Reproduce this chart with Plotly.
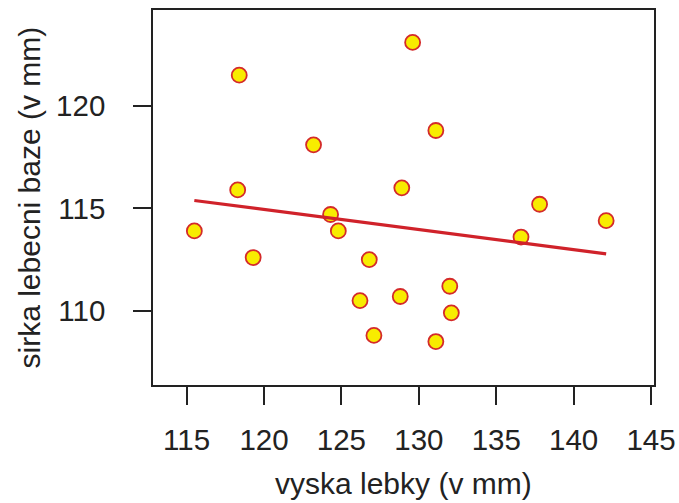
import numpy as np
import plotly.graph_objects as go

# data: skull height (x) vs. cranial base width (y), mm
vyska = [129.6, 118.4, 131.1, 123.2, 118.3, 128.9, 137.8, 115.5, 124.3, 124.8,
         136.6, 142.1, 119.3, 126.8, 132.0, 126.2, 128.8, 132.1, 127.1, 131.1]
sirka = [123.1, 121.5, 118.8, 118.1, 115.9, 116.0, 115.2, 113.9, 114.7, 113.9,
         113.6, 114.4, 112.6, 112.5, 111.2, 110.5, 110.7, 109.9, 108.8, 108.5]
x_ticks = [115, 120, 125, 130, 135, 140, 145]
y_ticks = [110, 115, 120]
x_title = "vyska lebky (v mm)"
y_title = "sirka lebecni baze (v mm)"

slope, intercept = np.polyfit(vyska, sirka, 1)
x_line = [min(vyska), max(vyska)]
y_line = [intercept + slope * v for v in x_line]

fig = go.Figure()
fig.add_trace(go.Scatter(x=vyska, y=sirka, mode="markers",
                         marker=dict(size=15, color="#F8EC00",
                                     line=dict(color="#D42A2A", width=1.8)),
                         showlegend=False))
fig.add_trace(go.Scatter(x=x_line, y=y_line, mode="lines",
                         line=dict(color="#D0222A", width=3.2),
                         showlegend=False))

txt = "#222222"
fam = "Liberation Sans, Arial, sans-serif"
tickfont = dict(family=fam, size=29.5, color=txt)
titlefont = dict(family=fam, size=30, color=txt)

fig.update_layout(
    width=679, height=503,
    margin=dict(l=153, r=25, t=10, b=118),
    plot_bgcolor="white", paper_bgcolor="white",
    font=dict(family=fam, color=txt),
    xaxis=dict(range=[112.83, 145.19], tickvals=x_ticks, ticks="outside",
               ticklen=18, tickwidth=1.5, tickcolor="#222",
               tickfont=tickfont, ticklabelstandoff=10, automargin=False,
               showline=True, linecolor="#222", linewidth=1.5, mirror=True,
               showgrid=False, zeroline=False),
    yaxis=dict(range=[106.38, 124.68], tickvals=y_ticks, ticks="outside",
               ticklen=18, tickwidth=1.5, tickcolor="#222",
               tickfont=tickfont, ticklabelstandoff=22, automargin=False,
               showline=True, linecolor="#222", linewidth=1.5, mirror=True,
               showgrid=False, zeroline=False),
    annotations=[
        dict(text=x_title, xref="paper", yref="paper", x=0.5, y=-0.262,
             xanchor="center", yanchor="middle", showarrow=False, font=titlefont),
        dict(text=y_title, xref="paper", yref="paper", x=-0.2475, y=0.5,
             xanchor="center", yanchor="middle", textangle=-90,
             showarrow=False, font=titlefont),
    ],
)
fig.write_html("out.html")
